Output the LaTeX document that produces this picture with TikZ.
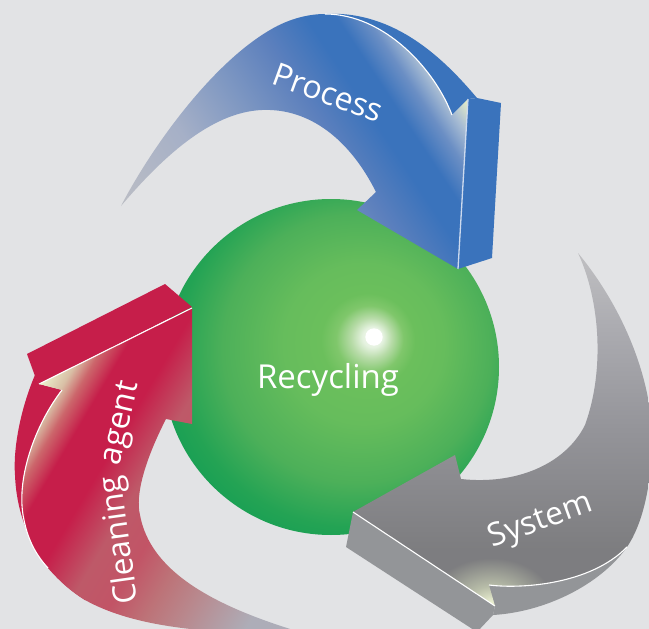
\documentclass[tikz,border=0pt]{standalone}
\usepackage{fontspec}
\setmainfont{Open Sans}
\definecolor{bgc}{RGB}{226,227,229}
\definecolor{bluemain}{RGB}{58,115,188}
\definecolor{redmain}{RGB}{198,30,74}
\definecolor{grayside}{RGB}{147,149,152}
\pgfdeclarehorizontalshading{bluegrad}{100bp}{
 rgb(0bp)=(.73,.74,.77);rgb(31.1bp)=(.73,.74,.77);rgb(39.9bp)=(.65,.69,.78);rgb(46.7bp)=(.49,.59,.76);rgb(52.2bp)=(.36,.50,.74);
 rgb(56.8bp)=(.227,.45,.737);rgb(59.3bp)=(.227,.45,.737);rgb(61.8bp)=(.42,.56,.77);rgb(63.8bp)=(.66,.74,.83);rgb(65.8bp)=(.92,.95,.78);rgb(100bp)=(.92,.95,.78)}
\pgfdeclarehorizontalshading{graygrad}{100bp}{
 rgb(0bp)=(.75,.75,.76);rgb(31.3bp)=(.75,.75,.76);rgb(39bp)=(.67,.67,.69);rgb(49bp)=(.58,.58,.60);
 rgb(61bp)=(.49,.49,.50);rgb(100bp)=(.49,.49,.50)}
\pgfdeclareradialshading{grayglow}{\pgfpoint{0bp}{0bp}}{
 rgb(0bp)=(.92,.94,.82);rgb(9bp)=(.72,.74,.66);rgb(25bp)=(.49,.49,.50);rgb(50bp)=(.49,.49,.50)}
\pgfdeclarehorizontalshading{redgrad}{100bp}{
 rgb(0bp)=(.92,.94,.80);rgb(37.5bp)=(.92,.94,.80);rgb(39.5bp)=(.85,.75,.65);rgb(41bp)=(.80,.40,.42);rgb(43bp)=(.776,.118,.29);
 rgb(47bp)=(.776,.118,.29);rgb(51.2bp)=(.745,.35,.41);rgb(54.9bp)=(.76,.33,.40);rgb(58.5bp)=(.74,.45,.47);rgb(61.7bp)=(.725,.53,.55);rgb(67.8bp)=(.68,.68,.72);rgb(100bp)=(.68,.68,.72)}
\pgfdeclareradialshading{spheregrad}{\pgfpoint{6.4bp}{4.6bp}}{
 rgb(0bp)=(.95,.98,.93);rgb(1.5bp)=(.90,.95,.88);rgb(3bp)=(.72,.86,.66);rgb(5bp)=(.50,.78,.42);rgb(7bp)=(.42,.75,.36);
 rgb(12bp)=(.40,.74,.36);rgb(20bp)=(.30,.69,.35);rgb(26bp)=(.14,.64,.33);rgb(30bp)=(.08,.62,.33);rgb(36bp)=(.55,.68,.58);rgb(42bp)=(.72,.74,.72);rgb(50bp)=(.72,.74,.72)}
\tikzset{
 x=1pt,y=-1pt,
 label text/.style={text=white,font=\fontsize{32}{36}\selectfont,inner sep=0pt},
 hairline/.style={draw=white,line width=1.1pt}
}
\def\blueinner{(376,192) .. controls (350,140) and (310,108) .. (262,110) .. controls (210,112) and (160,160) .. (121,206)}
\begin{document}
\begin{tikzpicture}
\useasboundingbox (0,0) rectangle (649,629);
\clip (0,0) rectangle (649,629);
\fill[bgc] (0,0) rectangle (649,629);
% sphere
\shade[shading=spheregrad] (331,367) circle[radius=168];
\fill[white] (374,337) circle[radius=8.7];
% blue arrow
\fill[bluemain] (477,98) -- (501,103) -- (492,258) -- (458,269) -- (468,99) -- cycle;
\fill[bluemain] (325,14) .. controls (395,10) and (445,60) .. (477,98) -- (468,99) -- (452,115) .. controls (435,70) and (385,14) .. (325,14) -- cycle;
\begin{scope}
\clip (121,206) .. controls (150,150) and (210,65) .. (270,30) .. controls (290,18) and (310,14) .. (325,14) .. controls (385,14) and (435,70) .. (452,115) -- (468,99) -- (458,269) -- (357,210) -- \blueinner -- cycle;
\shade[shading=bluegrad,shading angle=33.5] (60,-105) rectangle (560,395);
\end{scope}
\draw[hairline] (325,14) .. controls (385,14) and (435,70) .. (452,115);
\draw[draw={rgb,255:red,205;green,218;blue,238},line width=1.3pt] (468,99) -- (458,269);
% gray arrow
\fill[grayside] (353,512) -- (346,547) -- (477,632) -- (493,615) -- (495,606) -- cycle;
\fill[grayside] (627,547) .. controls (600,585) and (545,612) .. (493,615) -- (495,606) -- (489,585) .. controls (520,589) and (590,585) .. (627,547) -- cycle;
\begin{scope}
\clip (578,253) .. controls (625,310) and (655,385) .. (652,450) .. controls (650,490) and (642,525) .. (627,547) .. controls (590,585) and (520,589) .. (489,585) -- (495,606) -- (353,512) -- (455,455) -- (461,479) .. controls (515,485) and (565,465) .. (585,425) .. controls (605,370) and (600,300) .. (578,253) -- cycle;
\shade[shading=graygrad,shading angle=-90] (250,190) rectangle (750,690);
\shade[shading=grayglow] (491,602) ellipse[x radius=62,y radius=44];
\end{scope}
\draw[hairline] (489,585) .. controls (520,589) and (590,585) .. (627,547);
\draw[hairline] (353,512) -- (495,606);
% red arrow
\fill[redmain] (27,354) -- (165,284) -- (192,307) -- (39,384) -- (35,376) -- cycle;
\fill[redmain] (35,375) .. controls (20,410) and (13,450) .. (15,475) .. controls (17,530) and (45,575) .. (85,600) -- (62,390) -- (39,384) -- cycle;
\begin{scope}
\clip (192,308) -- (39,384) -- (62,390) .. controls (35,425) and (15,480) .. (24,520) .. controls (28,540) and (36,555) .. (48,568) .. controls (60,582) and (72,592) .. (85,600) .. controls (130,625) and (190,630) .. (240,633) -- (300,632) .. controls (210,605) and (150,570) .. (140,515) .. controls (135,495) and (145,460) .. (166,419) -- (192,424) -- cycle;
\shade[shading=redgrad,shading angle=-30.7] (-110,210) rectangle (390,710);
\end{scope}
\draw[hairline] (192,308) -- (39,384);
\draw[hairline] (62,390) .. controls (35,425) and (15,480) .. (24,520) .. controls (28,540) and (36,555) .. (48,568);
% labels
\node[label text,font=\fontsize{33}{36}\selectfont] (recycling) at (328,380) {Recycling};
\node[label text,rotate=-20] (process) at (328,93) {Process};
\node[label text,rotate=20] (system) at (541,522) {System};
\node[label text,rotate=98,anchor=base] (cleaning) at (129,539) {Cleaning};
\node[label text,rotate=77,anchor=base] (agent) at (129,425) {agent};
\end{tikzpicture}
\end{document}
